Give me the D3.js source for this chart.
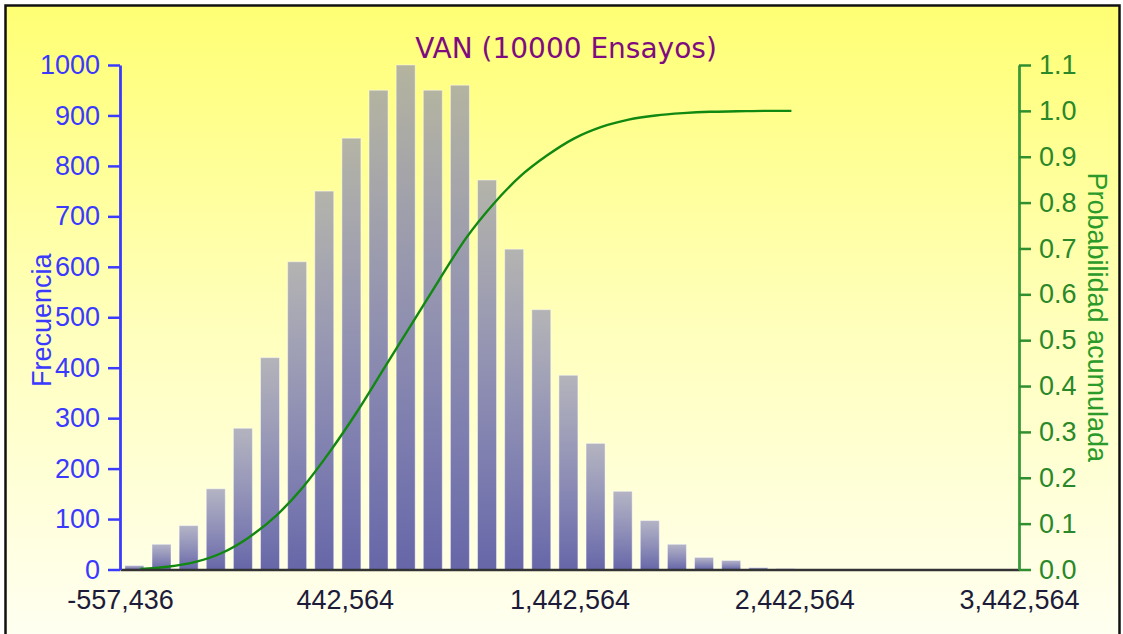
<!DOCTYPE html>
<html>
<head>
<meta charset="utf-8">
<script src="https://cdn.jsdelivr.net/npm/d3@7"></script>
<style>
  html, body { margin: 0; padding: 0; background: #ffffff; }
  svg { display: block; }
</style>
</head>
<body>
<svg id="chart" width="1123" height="634"></svg>
<script>
// ---- data ----
const chartTitle = "VAN (10000 Ensayos)";
const leftAxisTitle = "Frecuencia";
const rightAxisTitle = "Probabilidad acumulada";

const binWidth = 120700;
const binStarts = [-557436, -436736, -316036, -195336, -74636, 46064, 166764, 287464,
  408164, 528864, 649564, 770264, 890964, 1011664, 1132364, 1253064, 1373764,
  1494464, 1615164, 1735864, 1856564, 1977264, 2097964, 2218664, 2339364];
const frequencies = [8, 50, 87, 160, 280, 420, 610, 750, 855, 950, 1000, 950, 960,
  772, 635, 515, 385, 250, 155, 97, 50, 24, 18, 4, 2];
const cumulative = [0.001, 0.006, 0.016, 0.036, 0.07, 0.117, 0.18, 0.258, 0.345,
  0.44, 0.535, 0.63, 0.722, 0.796, 0.857, 0.903, 0.94, 0.965, 0.981, 0.99, 0.995,
  0.998, 0.999, 1.0, 1.0];

const xTickValues = [-557436, 442564, 1442564, 2442564, 3442564];
const freqTicks = [0, 100, 200, 300, 400, 500, 600, 700, 800, 900, 1000];
const probTicks = [0, 0.1, 0.2, 0.3, 0.4, 0.5, 0.6, 0.7, 0.8, 0.9, 1.0, 1.1];

// ---- layout ----
const plot = { left: 120, right: 1019, top: 65, bottom: 569.5 };

const svg = d3.select("#chart");
const defs = svg.append("defs");

const bg = defs.append("linearGradient").attr("id", "bgGrad")
  .attr("x1", 0).attr("y1", 0).attr("x2", 0).attr("y2", 1);
bg.append("stop").attr("offset", "0%").attr("stop-color", "#ffff74");
bg.append("stop").attr("offset", "50%").attr("stop-color", "#ffffbe");
bg.append("stop").attr("offset", "100%").attr("stop-color", "#fffff6");

const barGrad = defs.append("linearGradient").attr("id", "barGrad")
  .attr("x1", 0).attr("y1", 0).attr("x2", 0).attr("y2", 1);
barGrad.append("stop").attr("offset", "0%").attr("stop-color", "rgb(125,125,180)").attr("stop-opacity", 0.58);
barGrad.append("stop").attr("offset", "100%").attr("stop-color", "rgb(96,96,166)").attr("stop-opacity", 0.96);

// background + frame
svg.append("rect").attr("x", 5.5).attr("y", 5.5).attr("width", 1114).attr("height", 660)
  .attr("fill", "url(#bgGrad)").attr("stroke", "#111").attr("stroke-width", 2.5);

const x = d3.scaleLinear().domain([xTickValues[0], xTickValues[xTickValues.length - 1]])
  .range([plot.left, plot.right]);
const yF = d3.scaleLinear().domain([0, 1000]).range([plot.bottom, plot.top]);
const yP = d3.scaleLinear().domain([0, 1.1]).range([plot.bottom, plot.top]);

// bars
const bins = binStarts.map((s, i) => ({ start: s, freq: frequencies[i], cum: cumulative[i] }));
svg.append("g").selectAll("rect").data(bins).join("rect")
  .attr("x", d => x(d.start + 0.18 * binWidth))
  .attr("width", d => x(d.start + 0.88 * binWidth) - x(d.start + 0.18 * binWidth))
  .attr("y", d => yF(d.freq))
  .attr("height", d => yF(0) - yF(d.freq))
  .attr("fill", "url(#barGrad)")
  .attr("stroke", "rgba(255,255,255,0.45)")
  .attr("stroke-width", 1);

// cumulative line
const line = d3.line()
  .x(d => x(d.start + 0.75 * binWidth))
  .y(d => yP(d.cum))
  .curve(d3.curveMonotoneX);
svg.append("path").datum(bins).attr("d", line)
  .attr("fill", "none").attr("stroke", "#118811").attr("stroke-width", 2.4);

// bottom axis
const fmtComma = d3.format(",");
const xAxis = svg.append("g").attr("transform", `translate(0,${plot.bottom})`)
  .call(d3.axisBottom(x).tickValues(xTickValues).tickSize(0).tickPadding(20)
    .tickFormat(d => fmtComma(d).replace("\u2212", "-")));
xAxis.select(".domain").attr("stroke", "#333").attr("stroke-width", 2.5);
xAxis.selectAll("text").attr("fill", "#1c1c3a")
  .style("font-family", "'Liberation Sans', Arial, sans-serif").style("font-size", "27px");

// left axis
const lAxis = svg.append("g").attr("transform", `translate(${plot.left},0)`)
  .call(d3.axisLeft(yF).tickValues(freqTicks).tickSize(12).tickPadding(8).tickSizeOuter(0)
    .tickFormat(d3.format("d")));
lAxis.select(".domain").attr("stroke", "#3b3bff").attr("stroke-width", 2.8);
lAxis.selectAll(".tick line").attr("stroke", "#3b3bff").attr("stroke-width", 2.5);
lAxis.selectAll("text").attr("fill", "#3a3aff")
  .style("font-family", "'Liberation Sans', Arial, sans-serif").style("font-size", "27px");

// right axis
const rAxis = svg.append("g").attr("transform", `translate(${plot.right},0)`)
  .call(d3.axisRight(yP).tickValues(probTicks).tickSize(12).tickPadding(8).tickSizeOuter(0)
    .tickFormat(d3.format(".1f")));
rAxis.select(".domain").attr("stroke", "#3a9a3a").attr("stroke-width", 2.8);
rAxis.selectAll(".tick line").attr("stroke", "#2f8f2f").attr("stroke-width", 2.5);
rAxis.selectAll("text").attr("fill", "#2a882a")
  .style("font-family", "'Liberation Sans', Arial, sans-serif").style("font-size", "27px");

// titles
svg.append("text").attr("x", 566).attr("y", 58).attr("text-anchor", "middle")
  .attr("fill", "#7e0c80")
  .style("font-family", "'DejaVu Sans', Verdana, sans-serif").style("font-size", "28px")
  .text(chartTitle);

svg.append("text")
  .attr("transform", `translate(42,${(plot.top + plot.bottom) / 2 + 3}) rotate(-90)`)
  .attr("text-anchor", "middle").attr("dominant-baseline", "central")
  .attr("fill", "#3a3aff")
  .style("font-family", "'Liberation Sans', Arial, sans-serif").style("font-size", "27px")
  .text(leftAxisTitle);

svg.append("text")
  .attr("transform", `translate(1097,${(plot.top + plot.bottom) / 2}) rotate(90)`)
  .attr("text-anchor", "middle").attr("dominant-baseline", "central")
  .attr("fill", "#2a9a2a")
  .style("font-family", "'Liberation Sans', Arial, sans-serif").style("font-size", "27px")
  .text(rightAxisTitle);
</script>
</body>
</html>
